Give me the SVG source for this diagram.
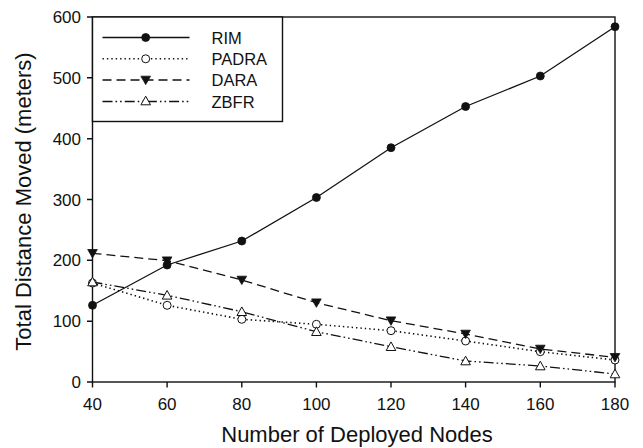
<svg xmlns="http://www.w3.org/2000/svg" width="643" height="448" viewBox="0 0 643 448">
<style>
text{font-family:"Liberation Sans",Arial,sans-serif;fill:#111}
.tick{font-size:17px}
.title{font-size:22px}
.leg{font-size:16.5px}
.axis{stroke:#111;stroke-width:1.4;fill:none}
.s{fill:none;stroke:#111;stroke-width:1.3}
.rim{}
.padra{stroke-dasharray:1.4 3;stroke-width:1.6}
.dara{stroke-dasharray:9 5}
.zbfr{stroke-dasharray:10 3 1.6 3 1.6 3}
</style>
<defs>
<circle id="mfc" r="4" fill="#111" stroke="#111" stroke-width="0.8"/>
<circle id="moc" r="4" fill="#fff" stroke="#111" stroke-width="1"/>
<polygon id="mdt" points="-4.8,-3.8 4.8,-3.8 0,4.6" fill="#111" stroke="#111" stroke-width="0.8"/>
<polygon id="mut" points="-4.8,3.8 4.8,3.8 0,-4.8" fill="#fff" stroke="#111" stroke-width="1"/>
</defs>
<rect width="643" height="448" fill="#fff"/>
<g id="axes" class="axis">
<rect x="92.5" y="17" width="522.5" height="365"/>
<path d="M87 382H92.5M87 321.2H92.5M87 260.3H92.5M87 199.5H92.5M87 138.7H92.5M87 77.8H92.5M87 17H92.5"/>
<path d="M92.5 382V387.5M167.1 382V387.5M241.8 382V387.5M316.4 382V387.5M391 382V387.5M465.6 382V387.5M540.3 382V387.5M615 382V387.5"/>
</g>
<g id="ylabels" class="tick" text-anchor="end">
<text x="81" y="388">0</text>
<text x="81" y="327.2">100</text>
<text x="81" y="266.3">200</text>
<text x="81" y="205.5">300</text>
<text x="81" y="144.7">400</text>
<text x="81" y="83.8">500</text>
<text x="81" y="23">600</text>
</g>
<g id="xlabels" class="tick" text-anchor="middle">
<text x="92.5" y="409.5">40</text>
<text x="167.1" y="409.5">60</text>
<text x="241.8" y="409.5">80</text>
<text x="316.4" y="409.5">100</text>
<text x="391" y="409.5">120</text>
<text x="465.6" y="409.5">140</text>
<text x="540.3" y="409.5">160</text>
<text x="615" y="409.5">180</text>
</g>
<text id="xtitle" class="title" x="357" y="441.5" text-anchor="middle">Number of Deployed Nodes</text>
<text id="ytitle" class="title" transform="translate(30.5 201.5) rotate(-90)" text-anchor="middle">Total Distance Moved (meters)</text>
<g id="connectors">
<polyline id="line-padra" class="s padra" points="92.5,283 167.1,305.3 241.8,319.3 316.4,324.3 391,330.7 465.6,341 540.3,351.7 615,360"/>
<polyline id="line-zbfr" class="s zbfr" points="92.5,282 167.1,295.3 241.8,311.7 316.4,331.7 391,346.7 465.6,361 540.3,366 615,374"/>
<polyline id="line-dara" class="s dara" points="92.5,253.3 167.1,260.7 241.8,280 316.4,302.7 391,320.7 465.6,334 540.3,349 615,357.3"/>
<polyline id="line-rim" class="s rim" points="92.5,305.3 167.1,265 241.8,241 316.4,197.5 391,147.7 465.6,106.5 540.3,76 615,26.7"/>
</g>
<g id="padra">
<use href="#moc" x="92.5" y="283"/><use href="#moc" x="167.1" y="305.3"/><use href="#moc" x="241.8" y="319.3"/><use href="#moc" x="316.4" y="324.3"/><use href="#moc" x="391" y="330.7"/><use href="#moc" x="465.6" y="341"/><use href="#moc" x="540.3" y="351.7"/><use href="#moc" x="615" y="360"/>
</g>
<g id="zbfr">
<use href="#mut" x="92.5" y="282"/><use href="#mut" x="167.1" y="295.3"/><use href="#mut" x="241.8" y="311.7"/><use href="#mut" x="316.4" y="331.7"/><use href="#mut" x="391" y="346.7"/><use href="#mut" x="465.6" y="361"/><use href="#mut" x="540.3" y="366"/><use href="#mut" x="615" y="374"/>
</g>
<g id="dara">
<use href="#mdt" x="92.5" y="253.3"/><use href="#mdt" x="167.1" y="260.7"/><use href="#mdt" x="241.8" y="280"/><use href="#mdt" x="316.4" y="302.7"/><use href="#mdt" x="391" y="320.7"/><use href="#mdt" x="465.6" y="334"/><use href="#mdt" x="540.3" y="349"/><use href="#mdt" x="615" y="357.3"/>
</g>
<g id="rim">
<use href="#mfc" x="92.5" y="305.3"/><use href="#mfc" x="167.1" y="265"/><use href="#mfc" x="241.8" y="241"/><use href="#mfc" x="316.4" y="197.5"/><use href="#mfc" x="391" y="147.7"/><use href="#mfc" x="465.6" y="106.5"/><use href="#mfc" x="540.3" y="76"/><use href="#mfc" x="615" y="26.7"/>
</g>
<g id="legend">
<rect x="92.5" y="17" width="190" height="104.5" fill="#fff" stroke="#111" stroke-width="1.4"/>
<line class="s rim" x1="102.5" y1="37.5" x2="189.5" y2="37.5"/>
<use href="#mfc" x="145.7" y="37.5"/>
<text class="leg" x="211.5" y="43.5">RIM</text>
<line class="s padra" x1="102.5" y1="58.8" x2="189.5" y2="58.8"/>
<use href="#moc" x="145.7" y="58.8"/>
<text class="leg" x="211.5" y="64.5">PADRA</text>
<line class="s dara" x1="102.5" y1="80" x2="189.5" y2="80"/>
<use href="#mdt" x="145.7" y="80"/>
<text class="leg" x="211.5" y="85.8">DARA</text>
<line class="s zbfr" x1="102.5" y1="101.5" x2="189.5" y2="101.5"/>
<use href="#mut" x="145.7" y="101"/>
<text class="leg" x="211.5" y="107.5">ZBFR</text>
</g>
</svg>
